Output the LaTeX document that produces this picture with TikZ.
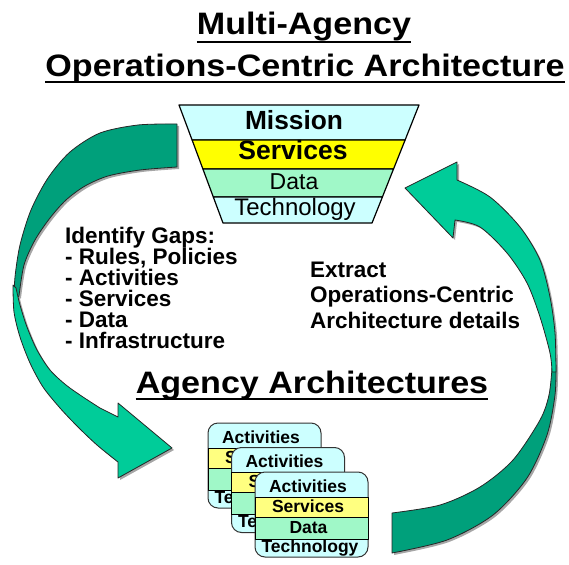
\documentclass[tikz,border=0pt]{standalone}
\usepackage{fontspec}
\setmainfont{Liberation Sans}
\definecolor{arrdark}{HTML}{00A07B}
\definecolor{arrlight}{HTML}{00CC99}
\definecolor{cyanfill}{HTML}{CCFFFF}
\definecolor{funyel}{HTML}{FFFF00}
\definecolor{mint}{HTML}{A0F8C8}
\definecolor{cardyel}{HTML}{FFFF80}
\begin{document}
\begin{tikzpicture}[x=1pt,y=-1pt,line join=round,
  titletext/.style={font=\fontsize{31}{36}\selectfont\bfseries,inner sep=0pt,anchor=base},
  uline/.style={line width=2.5pt},
  band/.style={draw=black,line width=1.2pt},
  bodytext/.style={font=\fontsize{22.5}{21}\selectfont\bfseries,inner sep=0pt,anchor=base west,align=left},
  cardbox/.style={draw=black!80,line width=1pt,fill=cyanfill,rounded corners=10pt},
  cardband/.style={draw=black,line width=1pt},
  cardtext/.style={font=\fontsize{17.5}{20}\selectfont\bfseries,inner sep=0pt,anchor=base},
  arrowedge/.style={draw=black!85,line width=0.8pt},
  shadowfill/.style={fill=black!35}]
\useasboundingbox (0,0) rectangle (569,564);

% ---- titles
\node[titletext] (t1) at (304,35) {\scalebox{1.1}[1]{Multi-Agency}};
\node[titletext] (t2) at (305,77) {\scalebox{1.1}[1]{Operations-Centric Architecture}};
\draw[uline] ([yshift=-7pt]t1.base west) -- ([yshift=-7pt]t1.base east);
\draw[uline] ([yshift=-5pt]t2.base west) -- ([yshift=-5pt]t2.base east);

% ---- left arrow (shadow, back part, front part)
\begin{scope}[shift={(2,2)}]
\fill[shadowfill] plot[smooth] coordinates {(177,124) (138,125) (100,133) (70,152) (48,178) (31,210) (20,245) (15,277) (14,300)}
  -- plot[smooth] coordinates {(19,296) (24,265) (35,240) (50,218) (66,200) (85,186) (108,176) (140,170) (177,167)} -- cycle;
\fill[shadowfill] plot[smooth] coordinates {(13,285) (14,312) (20,337) (30,363) (43,387) (60,408) (78,427) (97,445) (118,462)}
  -- (118,478) -- (172,448) -- (118,403) -- (118,417)
  -- plot[smooth] coordinates {(100,408) (83,397) (66,385) (50,370) (37,350) (27,327) (20,305) (16,288)} -- cycle;
\end{scope}
\path[fill=arrdark,arrowedge] plot[smooth] coordinates {(177,124) (138,125) (100,133) (70,152) (48,178) (31,210) (20,245) (15,277) (14,300)}
  -- plot[smooth] coordinates {(19,296) (24,265) (35,240) (50,218) (66,200) (85,186) (108,176) (140,170) (177,167)} -- cycle;
\path[fill=arrlight,arrowedge] plot[smooth] coordinates {(13,285) (14,312) (20,337) (30,363) (43,387) (60,408) (78,427) (97,445) (118,462)}
  -- (118,478) -- (172,448) -- (118,403) -- (118,417)
  -- plot[smooth] coordinates {(100,408) (83,397) (66,385) (50,370) (37,350) (27,327) (20,305) (16,288)} -- cycle;

% ---- right arrow
\begin{scope}[shift={(2,2)}]
\fill[shadowfill] (392,513) -- (392,553)
  -- plot[smooth] coordinates {(392,553) (447,540) (493,515) (527,478) (547,435) (555,395) (556,365)}
  -- plot[smooth] coordinates {(552,368) (549,395) (540,420) (513,460) (480,487) (440,505) (392,513)} -- cycle;
\fill[shadowfill] plot[smooth] coordinates {(457,180) (490,197) (520,227) (540,260) (550,297) (555,333) (556,372)}
  -- plot[smooth] coordinates {(552,372) (550,353) (540,317) (527,283) (507,253) (480,227) (455,220)}
  -- (453,238) -- (405,188) -- (457,162) -- cycle;
\end{scope}
\path[fill=arrdark,arrowedge] (392,513) -- (392,553)
  -- plot[smooth] coordinates {(392,553) (447,540) (493,515) (527,478) (547,435) (555,395) (556,365)}
  -- plot[smooth] coordinates {(552,368) (549,395) (540,420) (513,460) (480,487) (440,505) (392,513)} -- cycle;
\path[fill=arrlight,arrowedge] plot[smooth] coordinates {(457,180) (490,197) (520,227) (540,260) (550,297) (555,333) (556,372)}
  -- plot[smooth] coordinates {(552,372) (550,353) (540,317) (527,283) (507,253) (480,227) (455,220)}
  -- (453,238) -- (405,188) -- (457,162) -- cycle;

% ---- funnel
\path[band,fill=cyanfill] (179,105) -- (419,105) -- (405.1,140) -- (192.1,140) -- cycle;
\path[band,fill=funyel] (192.1,140) -- (405.1,140) -- (393.5,169) -- (202.9,169) -- cycle;
\path[band,fill=mint] (202.9,169) -- (393.5,169) -- (382.4,197) -- (213.3,197) -- cycle;
\path[band,fill=cyanfill] (213.3,197) -- (382.4,197) -- (372,223) -- (223,223) -- cycle;
\node[font=\fontsize{26.3}{30}\selectfont\bfseries,inner sep=0pt,anchor=base] (fm) at (294,130) {Mission};
\node[font=\fontsize{26.5}{30}\selectfont\bfseries,inner sep=0pt,anchor=base] (fs) at (293,160) {Services};
\node[font=\fontsize{23}{27}\selectfont,inner sep=0pt,anchor=base] (fd) at (294,189) {Data};
\node[font=\fontsize{24}{28}\selectfont,inner sep=0pt,anchor=base] (ft) at (295,215) {Technology};

% ---- side texts (base anchor = baseline of last line)
\node[bodytext] (gaps) at (65,348) {Identify Gaps:\\- Rules, Policies\\- Activities\\- Services\\- Data\\- Infrastructure};
\node[bodytext,font=\fontsize{22.5}{25.5}\selectfont\bfseries] (extract) at (310,328) {Extract\\Operations-Centric\\Architecture details};

% ---- agency title
\node[titletext] (t3) at (312,393) {\scalebox{1.1}[1]{Agency Architectures}};
\draw[uline] ([yshift=-6pt]t3.base west) -- ([yshift=-6pt]t3.base east);

% ---- agency cards
\foreach \i/\cx/\cy in {1/208/423, 2/231.5/447.5, 3/255/472} {
  \begin{scope}[shift={(\cx,\cy)}]
    \path[cardbox] (0,0) rectangle (113,85);
    \path[cardband,fill=cardyel] (0,25) rectangle (113,45);
    \path[cardband,fill=mint] (0,45) rectangle (113,67);
    \node[cardtext] (act\i) at (53,20) {Activities};
    \node[cardtext] (srv\i) at (53,40) {Services};
    \node[cardtext] (dat\i) at (53.5,61) {Data};
    \node[cardtext] (tec\i) at (55,80) {Technology};
  \end{scope}
}
\end{tikzpicture}
\end{document}
